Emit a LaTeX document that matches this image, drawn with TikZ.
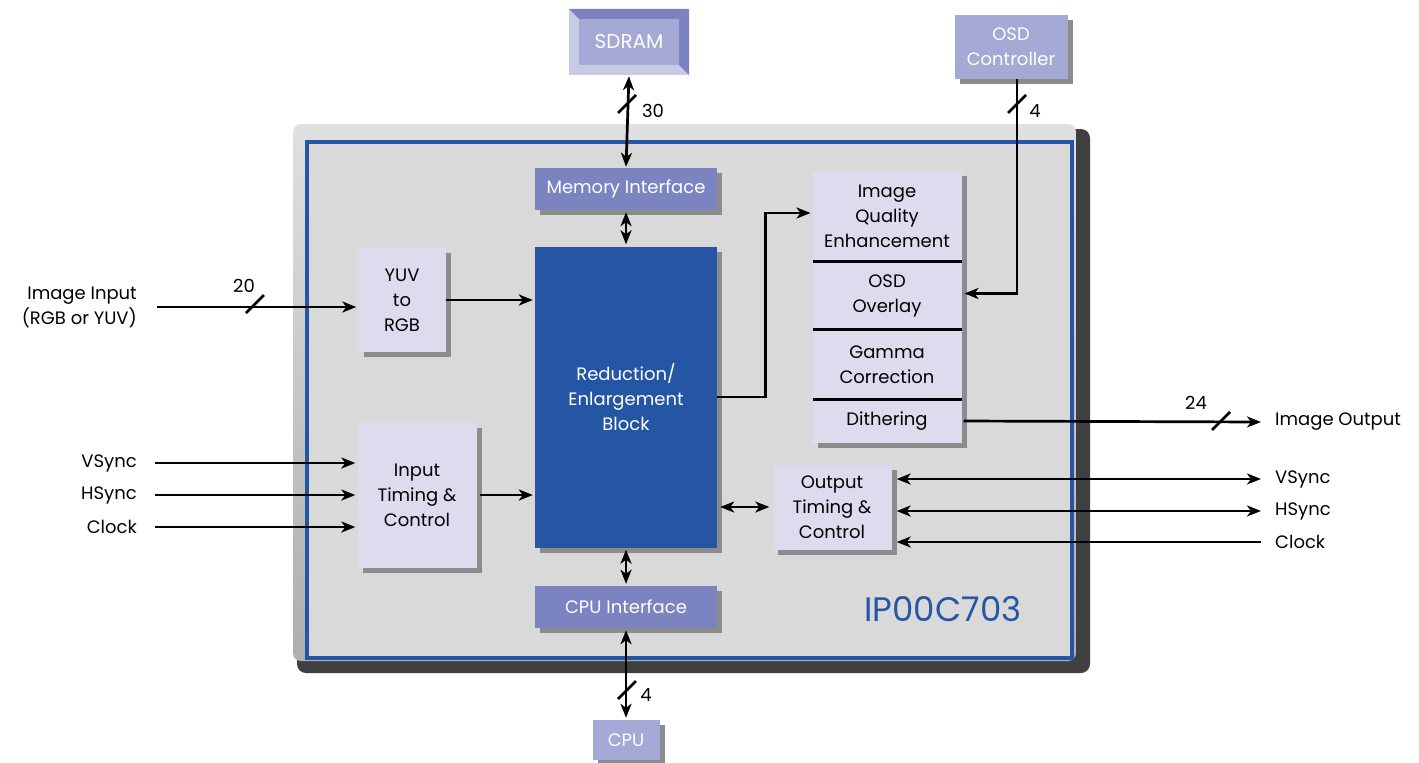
\documentclass[tikz,border=0pt]{standalone}
\usepackage{fontspec}
\setmainfont{Poppins}
\usetikzlibrary{arrows.meta,shadows,positioning}

\definecolor{chipblue}{HTML}{2456A5}
\definecolor{chipbg}{HTML}{D9D9D9}
\definecolor{blocklight}{HTML}{DCDCEE}
\definecolor{ifaceblue}{HTML}{7B83C1}
\definecolor{extblue}{HTML}{A4A9D5}
\definecolor{bevellight}{HTML}{C8CAE6}
\definecolor{beveldark}{HTML}{7A82C2}

\newcommand{\busmark}[1]{\draw[wire] #1 ++(-9,9) -- ++(18,-18);}

\begin{document}
\begin{tikzpicture}[x=1pt, y=-1pt, >={Stealth[length=14pt, width=11pt, inset=4pt]},
    font=\fontsize{18}{25}\selectfont]

% Stili dei blocchi
\tikzstyle{boxshadow} = [drop shadow={shadow xshift=5pt, shadow yshift=-5pt, fill=black!45, opacity=1}]
\tikzstyle{block} = [rectangle, fill=blocklight, align=center, inner sep=0pt, boxshadow]
\tikzstyle{iface} = [rectangle, fill=ifaceblue, text=white, inner sep=0pt,
    minimum width=182pt, minimum height=42pt, boxshadow]
\tikzstyle{ext} = [rectangle, fill=extblue, text=white, align=center, inner sep=0pt, boxshadow]
\tikzstyle{section} = [rectangle, fill=blocklight, align=center, inner sep=0pt, outer sep=0pt, minimum width=149pt]
\tikzstyle{wire} = [line width=2.7pt]
\tikzstyle{arrow} = [wire, ->]
\tikzstyle{sigin} = [anchor=east, align=right, inner sep=0pt]
\tikzstyle{sigout} = [anchor=west, align=left, inner sep=0pt]
\tikzstyle{width} = [inner sep=0pt]

\useasboundingbox (0,0) rectangle (1419,763);

% Chip
\fill[black!75, rounded corners=9pt] (297,129) rectangle (1090,673);
\shade[top color=black!12, bottom color=black!32, rounded corners=8pt] (293,124) rectangle (1076,661);
\draw[chipblue, line width=4pt, fill=chipbg] (307,142) rectangle (1072,658);
\node (chipname) [text=chipblue, font=\fontsize{34}{34}\selectfont] at (943,609) {IP00C703};

% Nodi
\node (sdram) [rectangle, fill=bevellight, minimum width=120pt, minimum height=66pt, inner sep=0pt] at (629,42) {};
\fill[beveldark] (sdram.north west) -- (sdram.north east) -- ++(-10,10) -- ([shift={(10,10)}]sdram.north west) -- cycle;
\fill[beveldark] (sdram.north east) -- (sdram.south east) -- ++(-10,-10) -- ([shift={(-10,10)}]sdram.north east) -- cycle;
\node (sdramface) [rectangle, fill=extblue, text=white, minimum width=100pt, minimum height=46pt,
    font=\fontsize{20}{25}\selectfont] at (sdram) {SDRAM};

\node (osdctrl) [ext, minimum width=113pt, minimum height=64pt] at (1011,47) {OSD\\Controller};
\node (memif) [iface] at (626,189) {Memory Interface};
\node (redblock) [rectangle, fill=chipblue, text=white, align=center, minimum width=182pt,
    minimum height=301pt, boxshadow] at (626,397) {Reduction/\\Enlargement\\Block};
\node (cpuif) [iface] at (626,607) {CPU Interface};
\node (cpu) [ext, minimum width=67pt, minimum height=40pt] at (626,740) {CPU};
\node (yuv) [block, minimum width=87pt, minimum height=104pt] at (402,300) {YUV\\to\\RGB};
\node (intiming) [block, minimum width=119pt, minimum height=145pt] at (417,495) {Input\\Timing \&\\Control};
\node (outtiming) [block, minimum width=119pt, minimum height=85pt] at (832,507) {Output\\Timing \&\\Control};

% Pila di qualita
\fill[black!45] (818,176) rectangle (967,448);
\node (iqe) [section, minimum height=91pt] at (887,216) {Image\\Quality\\Enhancement};
\node (osd) [section, minimum height=68pt, below=0pt of iqe] {OSD\\Overlay};
\node (gamma) [section, minimum height=70pt, below=0pt of osd] {Gamma\\Correction};
\node (dither) [section, minimum height=43pt, below=0pt of gamma] {Dithering};
\draw[wire] (iqe.south west) -- (iqe.south east);
\draw[wire] (osd.south west) -- (osd.south east);
\draw[wire] (gamma.south west) -- (gamma.south east);

% Segnali esterni
\node (imgin) [sigin] at (137,307) {Image Input\\(RGB or YUV)};
\node (vsyncin) [sigin] at (137,463) {VSync};
\node (hsyncin) [sigin] at (137,495) {HSync};
\node (clockin) [sigin] at (137,527) {Clock};
\node (imgout) [sigout] at (1275,422) {Image Output};
\node (vsyncout) [sigout] at (1275,479) {VSync};
\node (hsyncout) [sigout] at (1275,511) {HSync};
\node (clockout) [sigout] at (1275,542) {Clock};

% Larghezze dei bus
\node (w30) [width] at (653,111) {30};
\node (w4osd) [width] at (1035,111) {4};
\node (w20) [width] at (244,286) {20};
\node (w24) [width] at (1196,403) {24};
\node (w4cpu) [width] at (646,695) {4};

% Frecce
\draw [<->, wire, shorten <=1pt, shorten >=1pt] (sdram.south) -- (memif.north);
\draw [<->, wire, shorten <=2pt, shorten >=2pt] (memif.south) -- (redblock.north);
\draw [<->, wire, shorten <=2pt, shorten >=2pt] (redblock.south) -- (cpuif.north);
\draw [<->, wire, shorten <=2pt, shorten >=2pt] (cpuif.south) -- (cpu.north);
\draw [arrow, shorten >=2pt] ([xshift=20pt]imgin.east) -- (yuv.west |- imgin.east);
\draw [arrow, shorten >=2pt] (yuv.east) -- (redblock.west |- yuv.east);
\draw [arrow, shorten >=2pt] ([xshift=18pt]vsyncin.east) -- (intiming.west |- vsyncin.east);
\draw [arrow, shorten >=2pt] ([xshift=18pt]hsyncin.east) -- (intiming.west |- hsyncin.east);
\draw [arrow, shorten >=2pt] ([xshift=18pt]clockin.east) -- (intiming.west |- clockin.east);
\draw [arrow, shorten <=3pt, shorten >=2pt] (intiming.east) -- (redblock.west |- intiming.east);
\draw [arrow, shorten >=2pt] (redblock.east) -- ++(48,0) |- ([yshift=3pt]iqe.west);
\draw [arrow, shorten >=3pt] ([xshift=6pt]osdctrl.south) |- ([yshift=2pt]osd.east);
\draw [arrow, shorten <=2pt] (dither.east) -- ([xshift=-14pt]imgout.west);
\draw [<->, wire, shorten <=3pt, shorten >=3pt] (redblock.east |- outtiming.west) -- (outtiming.west);
\draw [<->, wire, shorten <=5pt] (outtiming.east |- vsyncout.west) -- ([xshift=-14pt]vsyncout.west);
\draw [<->, wire, shorten <=5pt] (outtiming.east |- hsyncout.west) -- ([xshift=-14pt]hsyncout.west);
\draw [<-, wire, shorten <=5pt] (outtiming.east |- clockout.west) -- ([xshift=-14pt]clockout.west);

% Tacche dei bus
\busmark{(627,104)}
\busmark{(1017,104)}
\busmark{(255,304)}
\busmark{(1221,421)}
\busmark{(627,690)}

\end{tikzpicture}
\end{document}
